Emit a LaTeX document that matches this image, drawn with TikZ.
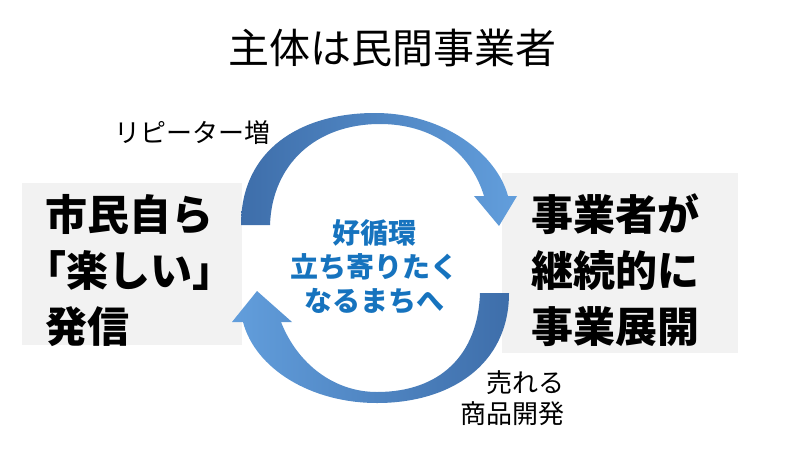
\documentclass[tikz,border=0pt]{standalone}
\usepackage{fontspec}
\setmainfont{Noto Sans CJK JP}
\usetikzlibrary{positioning}
\definecolor{loopdark}{RGB}{62,110,170}
\definecolor{looplight}{RGB}{98,158,220}
\definecolor{loopblue}{RGB}{22,115,190}
\definecolor{boxgray}{RGB}{242,242,242}

\begin{document}
\begin{tikzpicture}[
    x=1pt, y=-1pt,
    box/.style={fill=boxgray, inner sep=0pt},
    boxtext/.style={align=left, inner sep=0pt, anchor=west,
        font=\fontsize{42}{56}\selectfont\bfseries},
    note/.style={font=\fontsize{26}{31}\selectfont},
]
\useasboundingbox (0,0) rectangle (802,452);

% title
\node[font=\fontsize{41}{48}\selectfont] (title) at (392,48) {主体は民間事業者};

% the two sides
\node[box, minimum width=220, minimum height=162] (citizen) at (132,264) {};
\node[box, minimum width=236, minimum height=180] (business) at (620,263) {};
\node[boxtext] (citizen-text) at (45,271)
    {市民自ら\\{\addfontfeatures{RawFeature=+halt}「楽しい」}\\発信};
\node[boxtext] (business-text) at (531,270)
    {事業者が\\継続的に\\事業展開};

% upper arrow: citizen -> business
\path[left color=loopdark, right color=looplight]
    (241,225) .. controls (241,150) and (300,113) .. (375,113)
    .. controls (445,113) and (497,155) .. (508,196)
    -- (517,196) -- (499,226) -- (474,196) -- (484,196)
    .. controls (470,150) and (430,124) .. (380,124)
    .. controls (315,124) and (272,165) .. (270,225) -- cycle;

% lower arrow: business -> citizen
\path[left color=looplight, right color=loopdark]
    (509,293) .. controls (509,365) and (450,403) .. (377,403)
    .. controls (310,403) and (255,368) .. (243,322)
    -- (232,322) -- (257,291) -- (292,322) -- (281,322)
    .. controls (298,365) and (335,392) .. (377,392)
    .. controls (440,392) and (478,355) .. (480,293) -- cycle;

% inside the loop
\node[align=center, text=loopblue, font=\fontsize{28}{34}\selectfont\bfseries]
    (cycle) at (374,267) {好循環\\立ち寄りたく\\なるまちへ};

% labels on the arrows
\node[note] (repeat) at (192,133) {リピーター増};
\node[note, align=right, anchor=east] (goods) at (568,398) {売れる\\商品開発};

\end{tikzpicture}
\end{document}
